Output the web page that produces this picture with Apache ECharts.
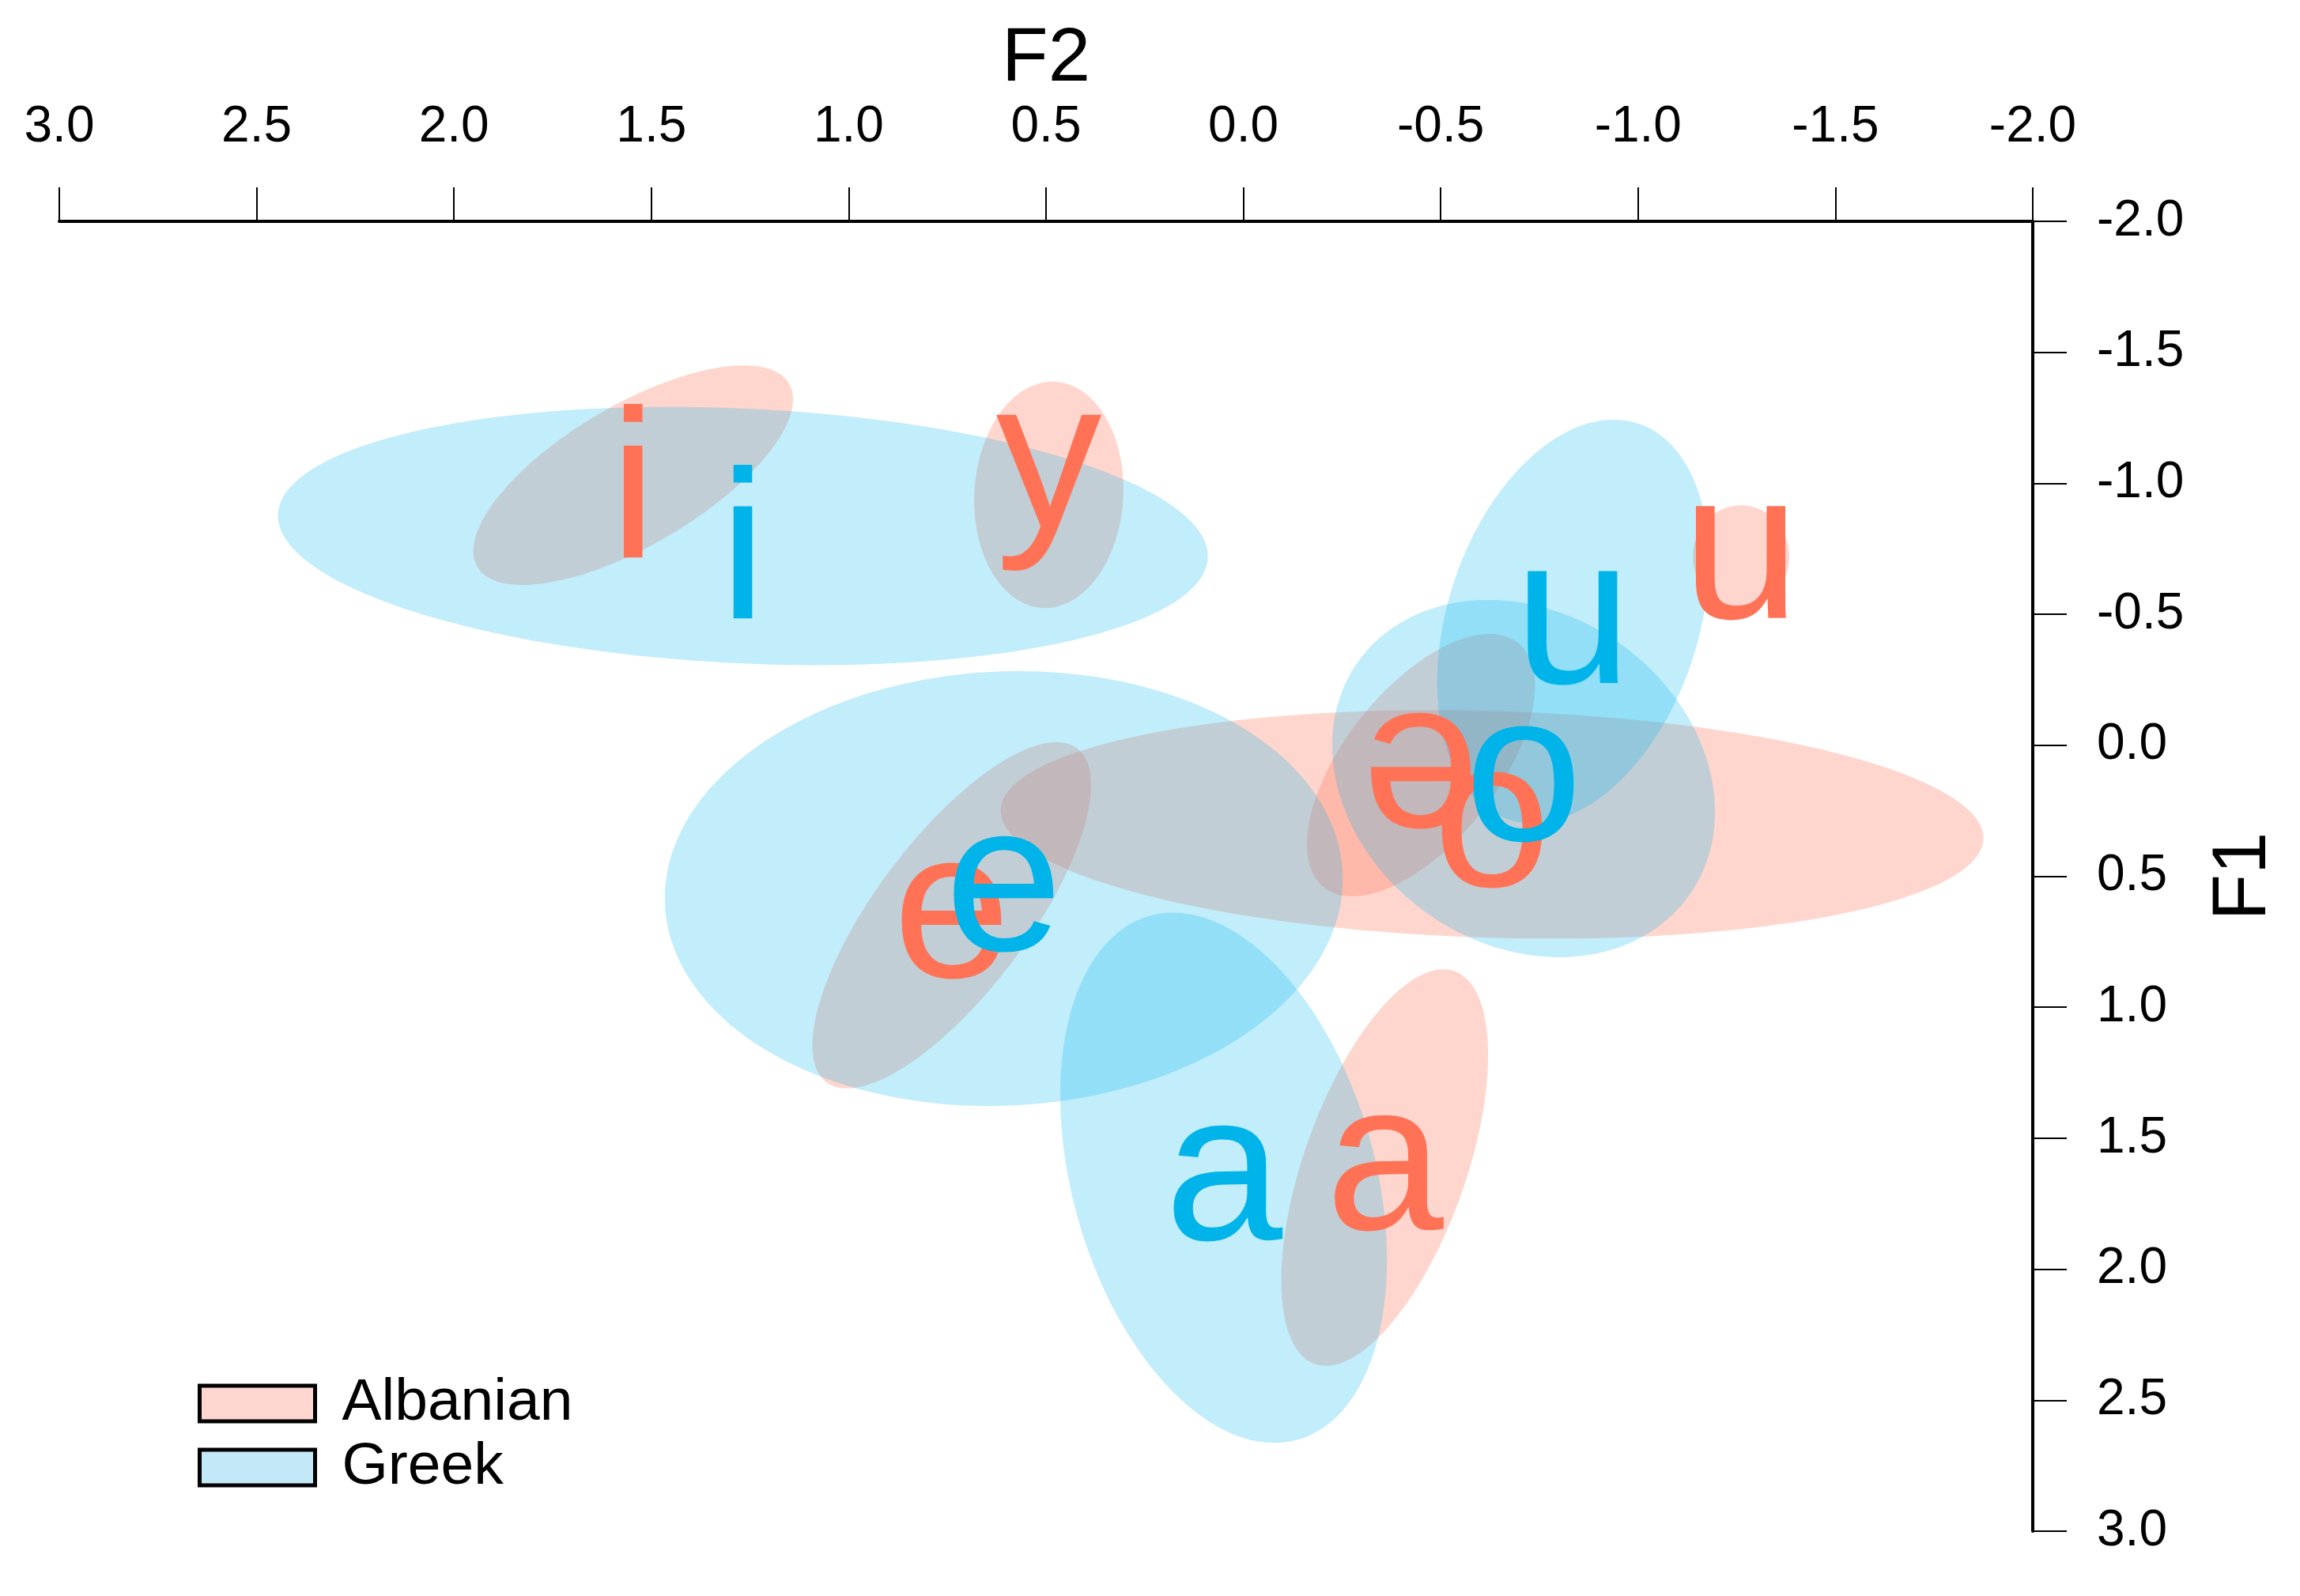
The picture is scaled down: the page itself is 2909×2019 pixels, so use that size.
<!DOCTYPE html>
<html>
<head>
<meta charset="utf-8">
<title>Vowel space: Albanian vs Greek</title>
<script src="https://cdn.jsdelivr.net/npm/echarts@6/dist/echarts.min.js"></script>
<style>
html, body { margin: 0; padding: 0; background: #fff; }
#chart { width: 2909px; height: 2019px; }
</style>
</head>
<body>
<div id="chart"></div>
<script>
// tick values of both axes (normalised formants)
const f2Ticks = [-2.0, -1.5, -1.0, -0.5, 0.0, 0.5, 1.0, 1.5, 2.0, 2.5, 3.0];
const f1Ticks = [-2.0, -1.5, -1.0, -0.5, 0.0, 0.5, 1.0, 1.5, 2.0, 2.5, 3.0];

// Albanian vowels: means, ellipse half-extent on each axis, correlation
const albVowels = ['i', 'y', 'e', 'a', 'ə', 'o', 'u'];
const albF2     = [1.546, 0.493, 0.739, -0.358, -0.450, -0.630, -1.261];
const albF1     = [-1.031, -0.956, 0.649, 1.612, 0.076, 0.302, -0.721];
const albRadF2  = [0.405, 0.189, 0.353, 0.262, 0.289, 1.245, 0.122];
const albRadF1  = [0.419, 0.432, 0.661, 0.757, 0.501, 0.436, 0.195];
const albRho    = [0.691, 0.05, 0.751, 0.567, 0.602, -0.12, 0.0];

// Greek vowels
const grkVowels = ['i', 'e', 'a', 'o', 'u'];
const grkF2     = [1.268, 0.607, 0.050, -0.710, -0.835];
const grkF1     = [-0.799, 0.547, 1.651, 0.127, -0.473];
const grkRadF2  = [1.178, 0.859, 0.414, 0.485, 0.344];
const grkRadF1  = [0.493, 0.830, 1.012, 0.682, 0.770];
const grkRho    = [-0.157, 0.044, -0.31, -0.186, 0.30];

const FONT = '"Liberation Sans", Arial, sans-serif';
const ALB_TEXT = '#FF7256';
const GRK_TEXT = '#00B4EA';
const ALB_FILL = 'rgba(255,114,86,0.29)';
const GRK_FILL = 'rgba(0,178,238,0.24)';
const LABEL_SIZE = 268;

function rows(f2, f1, r2, r1, rho) {
  return f2.map((v, i) => [v, f1[i], r2[i], r1[i], rho[i]]);
}

// ellipse outline built in data space, mapped through the axes
function ellipseItem(fill) {
  return function (params, api) {
    const m2 = api.value(0), m1 = api.value(1);
    const r2 = api.value(2), r1 = api.value(3), rho = api.value(4);
    const k = Math.sqrt(1 - rho * rho);
    const pts = [];
    for (let s = 0; s < 160; s++) {
      const t = s / 160 * Math.PI * 2;
      pts.push(api.coord([m2 + r2 * Math.cos(t), m1 + r1 * (rho * Math.cos(t) + k * Math.sin(t))]));
    }
    return { type: 'polygon', shape: { points: pts }, style: { fill: fill } };
  };
}

// vertical centre of the ink, in em above the baseline
function inkCentre(ch) {
  if (ch === 'i') return 0.358;
  if (ch === 'y') return 0.12;
  return 0.26;
}

function labelItem(vowels, color) {
  return function (params, api) {
    const p = api.coord([api.value(0), api.value(1)]);
    const ch = vowels[params.dataIndex];
    return {
      type: 'text',
      x: p[0],
      y: p[1] + (inkCentre(ch) - 0.245) * LABEL_SIZE,
      style: {
        text: ch, fill: color,
        font: LABEL_SIZE + 'px ' + FONT,
        textAlign: 'center', align: 'center',
        textVerticalAlign: 'middle', verticalAlign: 'middle'
      }
    };
  };
}

const tickFmt = v => v.toFixed(1);

const chart = echarts.init(document.getElementById('chart'));
chart.setOption({
  animation: false,
  backgroundColor: '#fff',
  grid: { left: 75, right: 338, top: 280, bottom: 82 },
  legend: {
    orient: 'vertical',
    left: 250, top: 1738, padding: 0,
    itemWidth: 146, itemHeight: 45, itemGap: 6,
    icon: 'rect',
    textStyle: { fontSize: 75, fontFamily: FONT, color: '#000', padding: [0, 0, 0, 29] },
    data: [
      { name: 'Albanian', itemStyle: { color: '#FDD6CF', borderColor: '#000', borderWidth: 5 } },
      { name: 'Greek', itemStyle: { color: '#C3E8F7', borderColor: '#000', borderWidth: 5 } }
    ]
  },
  xAxis: {
    type: 'value', position: 'top', inverse: true,
    min: Math.min(...f2Ticks), max: Math.max(...f2Ticks), interval: f2Ticks[1] - f2Ticks[0],
    name: 'F2', nameLocation: 'middle', nameGap: 156,
    nameTextStyle: { fontSize: 96, color: '#000', fontFamily: FONT },
    axisLine: { show: true, onZero: false, lineStyle: { color: '#000', width: 4 } },
    axisTick: { show: true, inside: false, length: 43, lineStyle: { color: '#000', width: 2 } },
    axisLabel: { margin: 87, fontSize: 64, color: '#000', fontFamily: FONT, formatter: tickFmt },
    splitLine: { show: false }
  },
  yAxis: {
    type: 'value', position: 'right', inverse: true,
    min: Math.min(...f1Ticks), max: Math.max(...f1Ticks), interval: f1Ticks[1] - f1Ticks[0],
    name: 'F1', nameLocation: 'middle', nameGap: 220, nameRotate: 90,
    nameTextStyle: { fontSize: 96, color: '#000', fontFamily: FONT },
    axisLine: { show: true, onZero: false, lineStyle: { color: '#000', width: 4 } },
    axisTick: { show: true, inside: false, length: 43, lineStyle: { color: '#000', width: 2 } },
    axisLabel: { margin: 81, fontSize: 64, color: '#000', fontFamily: FONT, formatter: tickFmt },
    splitLine: { show: false }
  },
  series: [
    {
      name: 'Albanian', type: 'custom', silent: true, z: 1,
      itemStyle: { color: '#FDD6CF' },
      renderItem: ellipseItem(ALB_FILL),
      encode: { x: 0, y: 1 },
      data: rows(albF2, albF1, albRadF2, albRadF1, albRho)
    },
    {
      name: 'Greek', type: 'custom', silent: true, z: 2,
      itemStyle: { color: '#C3E8F7' },
      renderItem: ellipseItem(GRK_FILL),
      encode: { x: 0, y: 1 },
      data: rows(grkF2, grkF1, grkRadF2, grkRadF1, grkRho)
    },
    {
      name: 'Albanian vowels', type: 'custom', silent: true, z: 3,
      renderItem: labelItem(albVowels, ALB_TEXT),
      encode: { x: 0, y: 1 },
      data: albF2.map((v, i) => [v, albF1[i]])
    },
    {
      name: 'Greek vowels', type: 'custom', silent: true, z: 4,
      renderItem: labelItem(grkVowels, GRK_TEXT),
      encode: { x: 0, y: 1 },
      data: grkF2.map((v, i) => [v, grkF1[i]])
    }
  ]
});
</script>
</body>
</html>
